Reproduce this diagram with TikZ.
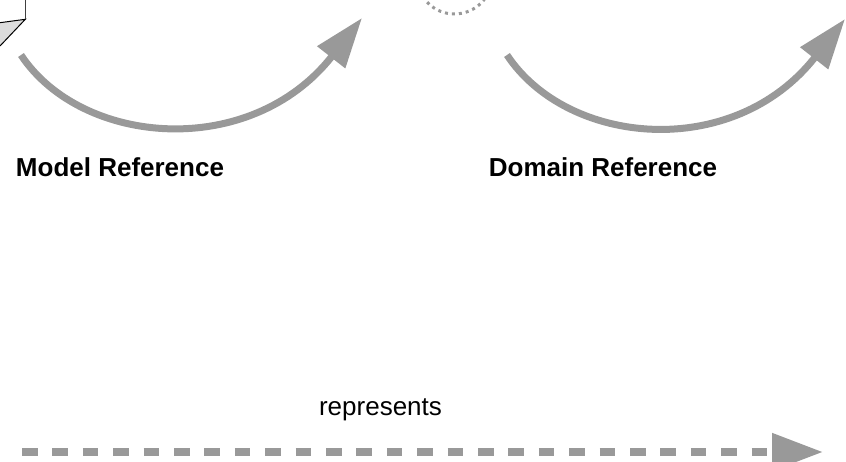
\documentclass[tikz,border=0pt]{standalone}
\usepackage{fontspec}
\setmainfont{Liberation Sans}
\usetikzlibrary{arrows.meta}
\definecolor{arrowgray}{HTML}{999999}
\definecolor{cubegray}{HTML}{DCDCDC}
\begin{document}
\begin{tikzpicture}[x=1pt,y=-1pt,
  curvearrow/.style={draw=arrowgray, line width=7pt, -{Triangle[length=50pt,width=34pt]}},
  dasharrow/.style={draw=arrowgray, line width=8pt, dash pattern=on 15.5pt off 14.9pt, -{Triangle[length=51pt,width=36pt]}},
  dotarc/.style={draw=arrowgray, line width=3pt, dash pattern=on 3pt off 4pt},
  boldlabel/.style={font=\fontsize{26}{30}\selectfont\bfseries, anchor=base, inner sep=0pt},
  plainlabel/.style={font=\fontsize{26}{30}\selectfont, anchor=base, inner sep=0pt}]
\useasboundingbox (0,0) rectangle (846,462);
\clip (0,0) rectangle (846,462);
% cube fragment
\fill[cubegray] (0,22.7) .. controls (12,20.5) .. (25.3,19.3) -- (0,46) -- cycle;
\draw[black, line width=1pt] (0,22.7) .. controls (12,20.5) .. (25.3,19.3) -- (0,46);
\draw[black!75, line width=1.3pt] (25.3,0) -- (25.3,19.3);
% dotted arc
\draw[dotarc] (454.5,-23.7) circle (37.7pt);
% curved arrows
\coordinate (m0) at (21,55);
\coordinate (m1) at (362,18);
\coordinate (d0) at (507,55);
\coordinate (d1) at (845,19);
\draw[curvearrow] (m0) .. controls +(60.5,91.3) and +(-111.6,142.2) .. (m1);
\draw[curvearrow] (d0) .. controls +(60.5,91.3) and +(-111.6,142.2) .. (d1);
% labels
\node[boldlabel] (modelref) at (120,177) {Model Reference};
\node[boldlabel] (domainref) at (603,177) {Domain Reference};
\node[plainlabel] (represents) at (380.5,415) {represents};
% dashed arrow
\coordinate (r0) at (22,452);
\coordinate (r1) at (823,452);
\draw[dasharrow] (r0) -- (r1);
\end{tikzpicture}
\end{document}
